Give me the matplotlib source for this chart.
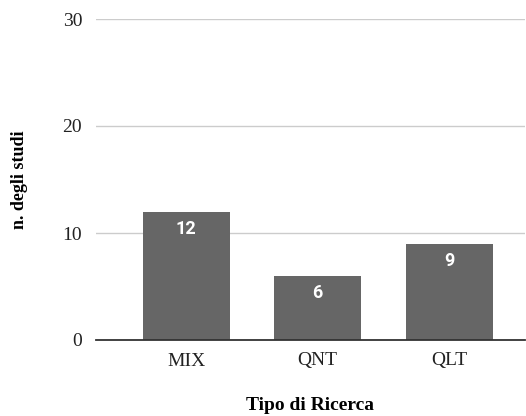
import matplotlib.pyplot as plt

# Studi per tipo di ricerca
tipi = ["MIX", "QNT", "QLT"]
n_studi = [12, 6, 9]

plt.rcParams['font.family'] = ['Liberation Serif', 'DejaVu Serif']

fig = plt.figure(figsize=(5.26, 4.16), dpi=100)
ax = fig.add_axes([96 / 526, 76 / 416, 429 / 526, 321 / 416])

x = range(len(tipi))
bars = ax.bar(x, n_studi, width=0.66, color='#666666', zorder=3)

# Etichette con il valore dentro le barre
for b, v in zip(bars, n_studi):
    ax.annotate(str(v), (b.get_x() + b.get_width() / 2, v),
                xytext=(0, -6), textcoords='offset points',
                ha='center', va='top', color='white', fontsize=13,
                fontweight='bold', family=['Roboto', 'DejaVu Sans'])

ax.set_xlim(-0.684, 2.574)
ax.set_ylim(0, 30)
ax.set_yticks([0, 10, 20, 30])
ax.set_xticks(list(x))
ax.set_xticklabels(tipi)
ax.tick_params(axis='both', length=0, labelsize=14, colors='#222222')
ax.tick_params(axis='y', pad=10)
ax.tick_params(axis='x', pad=9)

ax.grid(axis='y', color='#cccccc', linewidth=1, zorder=0)
for s in ['top', 'right', 'left']:
    ax.spines[s].set_visible(False)
ax.spines['bottom'].set_color('#333333')
ax.spines['bottom'].set_linewidth(1.3)
ax.spines['bottom'].set_zorder(4)

ax.set_xlabel("Tipo di Ricerca", fontsize=14, fontweight='bold', labelpad=20)
ax.set_ylabel("n. degli studi", fontsize=13, fontweight='bold', labelpad=25)

fig.savefig("out.png", dpi=100)
